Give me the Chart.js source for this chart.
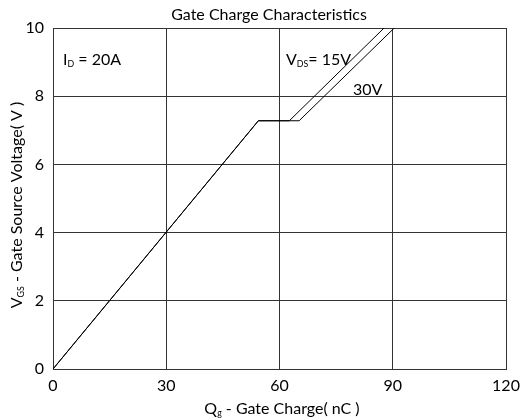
<!DOCTYPE html>
<html>
<head>
<meta charset="utf-8">
<script src="https://cdn.jsdelivr.net/npm/chart.js@4.4.1/dist/chart.umd.min.js"></script>
<style>
  body { margin: 0; background: #fff; }
  #wrap { width: 523px; height: 420px; }
</style>
</head>
<body>
<div id="wrap"><canvas id="chart" width="523" height="420"></canvas></div>
<script>
var qg15 = [0, 54.4, 62.6, 87.7];
var vgs15 = [0, 7.28, 7.28, 10];
var qg30 = [0, 54.4, 65.2, 90.4];
var vgs30 = [0, 7.28, 7.28, 10];
var xTicks = [0, 30, 60, 90, 120];
var yTicks = [0, 2, 4, 6, 8, 10];

var FONT = "Lato, 'Open Sans', sans-serif";

function pts(xs, ys) {
  var out = [];
  for (var i = 0; i < xs.length; i++) out.push({ x: xs[i], y: ys[i] });
  return out;
}

// text made of pieces, some of them subscript
function drawParts(ctx, parts, x, y, size, align) {
  var w = 0, i;
  for (i = 0; i < parts.length; i++) {
    ctx.font = (parts[i][1] ? size * 0.55 : size) + "px " + FONT;
    w += ctx.measureText(parts[i][0]).width;
  }
  var cx = align == "center" ? x - w / 2 : x;
  ctx.textAlign = "left";
  ctx.textBaseline = "alphabetic";
  for (i = 0; i < parts.length; i++) {
    var sub = parts[i][1];
    ctx.font = (sub ? size * 0.55 : size) + "px " + FONT;
    ctx.fillText(parts[i][0], cx, sub ? y + size * 0.15 : y);
    cx += ctx.measureText(parts[i][0]).width;
  }
}

var labels = {
  id: "labels",
  afterDraw: function(chart) {
    var ctx = chart.ctx;
    ctx.save();
    ctx.fillStyle = "#000";
    ctx.font = "16px " + FONT;
    ctx.textAlign = "center";
    ctx.textBaseline = "alphabetic";
    ctx.fillText("Gate Charge Characteristics", 269, 20);

    drawParts(ctx, [["I", 0], ["D", 1], [" = 20A", 0]], 63, 65, 16, "left");
    drawParts(ctx, [["V", 0], ["DS", 1], ["= 15V", 0]], 286, 65, 16, "left");
    drawParts(ctx, [["30V", 0]], 353, 95, 16, "left");

    drawParts(ctx, [["Q", 0], ["g", 1], [" - Gate Charge( nC )", 0]], 282, 414, 16, "center");

    ctx.translate(22, 205);
    ctx.rotate(-Math.PI / 2);
    drawParts(ctx, [["V", 0], ["GS", 1], [" - Gate Source Voltage( V )", 0]], 0, 0, 16, "center");
    ctx.restore();
  }
};

new Chart(document.getElementById("chart"), {
  type: "scatter",
  data: {
    datasets: [
      { label: "15V", data: pts(qg15, vgs15), showLine: true, borderColor: "#000", borderWidth: 1, pointRadius: 0, fill: false },
      { label: "30V", data: pts(qg30, vgs30), showLine: true, borderColor: "#000", borderWidth: 1, pointRadius: 0, fill: false }
    ]
  },
  options: {
    responsive: false,
    animation: false,
    layout: { padding: { top: 28, right: 17, left: 0, bottom: 0 } },
    plugins: { legend: { display: false }, tooltip: { enabled: false } },
    scales: {
      x: {
        type: "linear", min: 0, max: 120,
        afterBuildTicks: function(s) { s.ticks = xTicks.map(function(v) { return { value: v }; }); },
        afterFit: function(s) { s.height = 51; s.paddingLeft = 0; s.paddingRight = 0; },
        grid: { color: "#333", lineWidth: 1, drawTicks: false },
        border: { color: "#333" },
        ticks: { color: "#000", font: { size: 16, family: FONT }, padding: 7, maxRotation: 0 }
      },
      y: {
        min: 0, max: 10,
        afterBuildTicks: function(s) { s.ticks = yTicks.map(function(v) { return { value: v }; }); },
        afterFit: function(s) { s.width = 53; s.paddingTop = 0; s.paddingBottom = 0; },
        grid: { color: "#333", lineWidth: 1, drawTicks: false },
        border: { color: "#333" },
        ticks: { color: "#000", font: { size: 16, family: FONT }, padding: 9 }
      }
    }
  },
  plugins: [labels]
});
</script>
</body>
</html>
